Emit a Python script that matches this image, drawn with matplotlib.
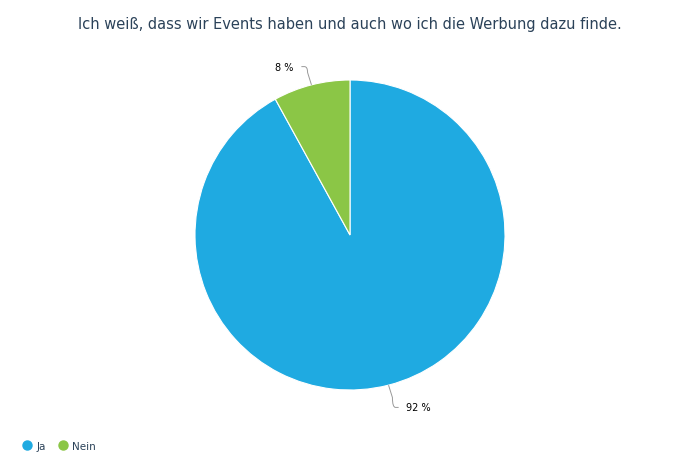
import numpy as np
import matplotlib
matplotlib.use('Agg')
import matplotlib.pyplot as plt
from matplotlib.lines import Line2D
from matplotlib.path import Path
from matplotlib.patches import PathPatch

labels = ['Ja', 'Nein']
values = [92, 8]
colors = ['#1FAAE1', '#8BC646']
title = 'Ich weiß, dass wir Events haben und auch wo ich die Werbung dazu finde.'

plt.rcParams['font.family'] = ['DejaVu Sans']
fig = plt.figure(figsize=(7, 4.77), dpi=100)
# pie centred at (350, 236) px, radius ~155 px
r_px = 155
ax = fig.add_axes([(350 - r_px) / 700, 1 - (236 + r_px) / 477, 2 * r_px / 700, 2 * r_px / 477])

wedges, _ = ax.pie(values, colors=colors, startangle=90, counterclock=False, radius=1,
                   wedgeprops=dict(edgecolor='white', linewidth=0.8))
ax.set_xlim(-1, 1)
ax.set_ylim(-1, 1)
ax.set_aspect('auto')
ax.axis('off')

# connector lines with a rounded elbow, then the percentage text
for w, v in zip(wedges, values):
    ang = np.deg2rad((w.theta1 + w.theta2) / 2)
    x0, y0 = np.cos(ang), np.sin(ang)
    sx, sy = np.sign(x0), np.sign(y0)
    yt = y0 * 1.135 - 0.013
    verts = [(x0, y0), (x0 + sx * 0.025, y0 + sy * 0.08),
             (x0 + sx * 0.025, yt), (x0 + sx * 0.045, yt), (x0 + sx * 0.065, yt)]
    codes = [Path.MOVETO, Path.LINETO, Path.CURVE3, Path.CURVE3, Path.LINETO]
    ax.add_patch(PathPatch(Path(verts, codes), fill=False, edgecolor='#999999', lw=0.7,
                           clip_on=False))
    ax.text(x0 + sx * 0.115, yt, f'{v} %', ha='left' if sx > 0 else 'right', va='center',
            fontsize=7, color='black')

fig.text(0.5, 1 - 25 / 477, title, ha='center', va='center', fontsize=10.5, color='#2B4259')

handles = [Line2D([], [], marker='o', ls='', markersize=6.5, markerfacecolor=c, markeredgecolor=c)
           for c in colors]
leg = fig.legend(handles, labels, loc='center left', bbox_to_anchor=(23 / 700, 1 - 447 / 477),
                 ncol=2, frameon=False, fontsize=7.5, handletextpad=0.5, columnspacing=1.2,
                 handlelength=0.8, borderaxespad=0, borderpad=0)
for t in leg.get_texts():
    t.set_color('#2B4259')

fig.savefig('out.png', dpi=100)
